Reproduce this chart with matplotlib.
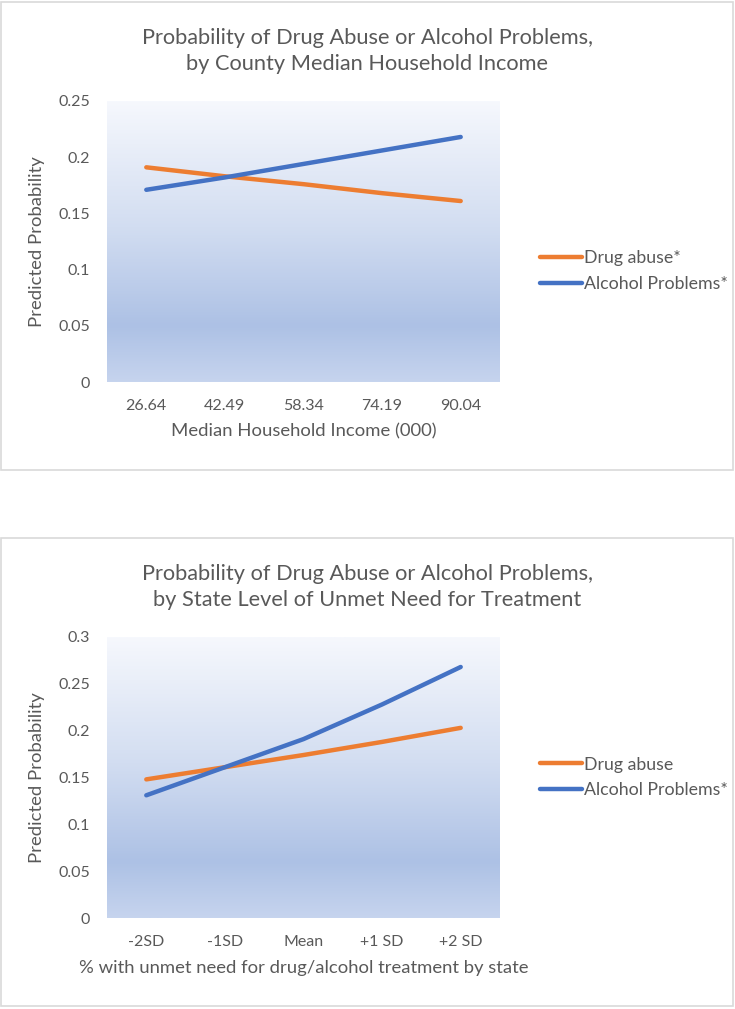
import numpy as np
import matplotlib.pyplot as plt
from matplotlib.colors import LinearSegmentedColormap
from matplotlib.patches import Rectangle

# data
income_labels = ['26.64', '42.49', '58.34', '74.19', '90.04']
income_drug = [0.191, 0.183, 0.176, 0.168, 0.161]
income_alcohol = [0.171, 0.182, 0.194, 0.206, 0.218]

need_labels = ['-2SD', '-1SD', 'Mean', '+1 SD', '+2 SD']
need_drug = [0.148, 0.161, 0.174, 0.188, 0.203]
need_alcohol = [0.131, 0.161, 0.191, 0.228, 0.268]

W, H = 735, 1009
txt = '#595959'
orange = '#ED7D31'
blue = '#4472C4'
plt.rcParams['font.family'] = ['Lato', 'DejaVu Sans']

grad = LinearSegmentedColormap.from_list(
    'g', [(0, '#c6d4ee'), (0.2, '#adc1e5'), (0.55, '#d2ddf1'), (1, '#f6f8fd')])

fig = plt.figure(figsize=(W / 100, H / 100), dpi=100)


def px(x0, y0, w, h):
    return [x0 / W, 1 - (y0 + h) / H, w / W, h / H]


def panel(top, title, labels, drug, alc, ymax, xlabel, drug_name, leg_y):
    fig.patches.append(Rectangle((1 / W, 1 - (top + 469) / H), 732 / W, 468 / H,
                                 transform=fig.transFigure, fill=False,
                                 edgecolor='#d9d9d9', lw=1.2))
    fig.text(367 / W, 1 - (top + 50) / H, title, ha='center', va='center',
             fontsize=15.7, color=txt, linespacing=1.35)
    ax = fig.add_axes(px(107, top + 100, 393, 281))
    ax.imshow(np.linspace(0, 1, 256).reshape(-1, 1), cmap=grad, aspect='auto',
              extent=(-0.5, 4.5, 0, ymax), origin='lower', zorder=0)
    x = np.arange(len(labels))
    ax.plot(x, drug, color=orange, lw=3.2, solid_capstyle='round', label=drug_name)
    ax.plot(x, alc, color=blue, lw=3.2, solid_capstyle='round', label='Alcohol Problems*')
    ax.set_xlim(-0.5, 4.5)
    ax.set_ylim(0, ymax)
    ax.set_xticks(x)
    ax.set_xticklabels(labels)
    yt = np.arange(0, ymax + 1e-9, 0.05)
    ax.set_yticks(yt)
    ax.set_yticklabels(['0'] + ['%g' % v for v in yt[1:]])
    ax.tick_params(length=0, labelsize=11.5, colors=txt)
    ax.tick_params(axis='y', pad=12)
    ax.tick_params(axis='x', pad=12)
    for s in ax.spines.values():
        s.set_visible(False)
    ax.set_xlabel(xlabel, fontsize=13.3, color=txt, labelpad=8)
    ax.set_ylabel('Predicted Probability', fontsize=13.3, color=txt, labelpad=10)
    ax.legend(loc='center left', bbox_to_anchor=(1.06, leg_y), frameon=False,
              fontsize=12.8, labelcolor=txt, handlelength=2.4, handletextpad=0.1,
              labelspacing=0.55)
    return ax


panel(1, 'Probability of Drug Abuse or Alcohol Problems,\nby County Median Household Income',
      income_labels, income_drug, income_alcohol, 0.25,
      'Median Household Income (000)', 'Drug abuse*', 0.395)
panel(537, 'Probability of Drug Abuse or Alcohol Problems,\nby State Level of Unmet Need for Treatment',
      need_labels, need_drug, need_alcohol, 0.3,
      '% with unmet need for drug/alcohol treatment by state', 'Drug abuse', 0.5)

fig.savefig('out.png', dpi=100)
